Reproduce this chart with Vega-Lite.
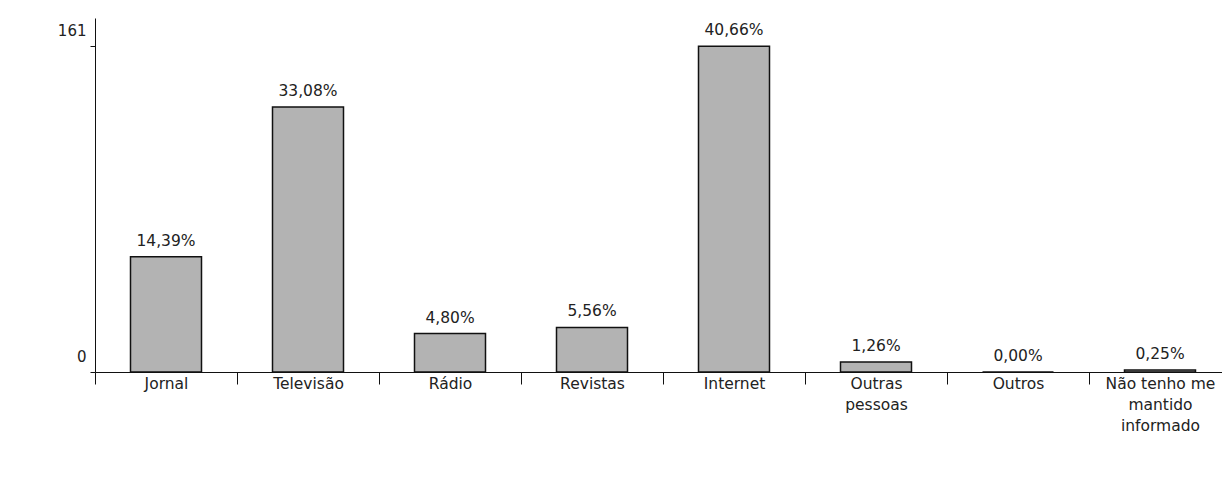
{
  "$schema": "https://vega.github.io/schema/vega-lite/v6.json",
  "autosize": {"type": "none"},
  "padding": {"left": 95, "top": 18, "right": 0, "bottom": 114},
  "width": 1127,
  "height": 354,
  "background": "white",
  "config": {"view": {"stroke": null}, "font": "DejaVu Sans"},
  "data": {
    "values": [
      {"meio": "Jornal", "respostas": 57, "pct": "14,39%"},
      {"meio": "Televisão", "respostas": 131, "pct": "33,08%"},
      {"meio": "Rádio", "respostas": 19, "pct": "4,80%"},
      {"meio": "Revistas", "respostas": 22, "pct": "5,56%"},
      {"meio": "Internet", "respostas": 161, "pct": "40,66%"},
      {"meio": "Outras|pessoas", "respostas": 5, "pct": "1,26%"},
      {"meio": "Outros", "respostas": 0, "pct": "0,00%"},
      {"meio": "Não tenho me|mantido|informado", "respostas": 1, "pct": "0,25%"}
    ]
  },
  "encoding": {
    "x": {
      "field": "meio",
      "type": "nominal",
      "sort": null,
      "scale": {"range": [0, 1136], "paddingInner": 0, "paddingOuter": 0},
      "axis": {
        "title": null,
        "labelAngle": 0,
        "tickBand": "extent",
        "tickSize": 12,
        "tickColor": "#111",
        "domainColor": "#111",
        "labelFontSize": 15.5,
        "labelColor": "#222",
        "labelPadding": -8,
        "labelBaseline": "top",
        "labelExpr": "split(datum.label, '|')",
        "labelLineHeight": 21,
        "labelLimit": 0
      }
    },
    "y": {
      "field": "respostas",
      "type": "quantitative",
      "scale": {"domain": [0, 175], "nice": false},
      "axis": {
        "title": null,
        "values": [0, 161],
        "grid": false,
        "tickSize": 5,
        "tickColor": "#111",
        "domainColor": "#111",
        "labelPadding": 4,
        "labelOffset": -16,
        "labelFontSize": 15,
        "labelColor": "#222"
      }
    }
  },
  "layer": [
    {"mark": {"type": "bar", "width": {"band": 0.5}, "fill": "#b3b3b3", "stroke": "#111", "strokeWidth": 1.5}},
    {
      "mark": {"type": "text", "dy": -16, "baseline": "middle", "fontSize": 15.5, "color": "#222"},
      "encoding": {"text": {"field": "pct"}}
    }
  ]
}
